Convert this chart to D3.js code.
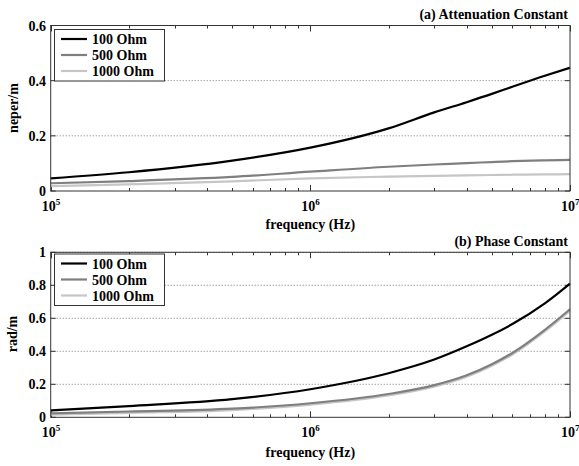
<!DOCTYPE html>
<html>
<head>
<meta charset="utf-8">
<script src="https://cdn.jsdelivr.net/npm/d3@7"></script>
<style>
  html, body { margin: 0; padding: 0; background: #fff; }
  svg { display: block; }
  text { font-family: "Liberation Serif", "Times New Roman", serif; font-weight: bold; fill: #000; }
</style>
</head>
<body>
<svg id="chart" width="579" height="466"></svg>
<script>
// Line frequencies (Hz)
const freqs = [1e5, 2e5, 5e5, 1e6, 2e6, 3e6, 4e6, 5e6, 6e6, 8e6, 1e7];
const seriesNames = ["100 Ohm", "500 Ohm", "1000 Ohm"];
const seriesColors = ["#000000", "#7f7f7f", "#c6c6c6"];

// Attenuation constant (neper/m)
const atten100 = [0.046, 0.068, 0.110, 0.157, 0.227, 0.285, 0.322, 0.352, 0.378, 0.418, 0.447];
const atten500 = [0.028, 0.036, 0.051, 0.070, 0.088, 0.096, 0.101, 0.105, 0.108, 0.111, 0.113];
const atten1000 = [0.018, 0.024, 0.035, 0.046, 0.052, 0.055, 0.057, 0.058, 0.059, 0.060, 0.061];

// Phase constant (rad/m)
const phase100 = [0.042, 0.068, 0.110, 0.170, 0.267, 0.350, 0.430, 0.500, 0.565, 0.690, 0.810];
const phase500 = [0.024, 0.035, 0.052, 0.085, 0.141, 0.195, 0.255, 0.322, 0.390, 0.530, 0.655];
const phase1000 = [0.016, 0.027, 0.044, 0.077, 0.133, 0.186, 0.246, 0.313, 0.380, 0.520, 0.645];

const xDecades = [1e5, 1e6, 1e7];
const xDecadeExps = ["5", "6", "7"];
const yTicksA = [0, 0.2, 0.4, 0.6];
const yTicksB = [0, 0.2, 0.4, 0.6, 0.8, 1];

const svg = d3.select("#chart");

const left = 50.7, right = 570;

const panels = [
  {
    top: 25.5, bottom: 191, yMax: 0.6, yTicks: yTicksA,
    series: [atten100, atten500, atten1000],
    title: "(a) Attenuation Constant", titleY: 19,
    yLabel: "neper/m", yLabelY: 108, yLabelX: 18,
    xLabelY: 229,
    legendTop: 29.5
  },
  {
    top: 252.3, bottom: 417.3, yMax: 1, yTicks: yTicksB,
    series: [phase100, phase500, phase1000],
    title: "(b) Phase Constant", titleY: 246,
    yLabel: "rad/m", yLabelY: 334, yLabelX: 17,
    xLabelY: 457,
    legendTop: 254
  }
];

const minorTicks = [];
for (let e = 5; e < 7; e++) {
  for (let m = 2; m <= 9; m++) minorTicks.push(m * Math.pow(10, e));
}

panels.forEach(p => {
  const x = d3.scaleLog().domain([1e5, 1e7]).range([left, right]);
  const y = d3.scaleLinear().domain([0, p.yMax]).range([p.bottom, p.top]);
  const g = svg.append("g");

  // white plot background
  g.append("rect")
    .attr("x", left).attr("y", p.top)
    .attr("width", right - left).attr("height", p.bottom - p.top)
    .attr("fill", "#fff");

  // horizontal dotted grid
  g.selectAll(".grid").data(p.yTicks.slice(1)).enter().append("line")
    .attr("x1", left).attr("x2", right)
    .attr("y1", d => y(d)).attr("y2", d => y(d))
    .attr("stroke", "#777").attr("stroke-width", 1)
    .attr("stroke-dasharray", "1,2");

  // minor log ticks (top and bottom, inward)
  minorTicks.forEach(t => {
    const xx = Math.round(x(t)) + 0.5;
    g.append("line").attr("x1", xx).attr("x2", xx)
      .attr("y1", p.bottom).attr("y2", p.bottom - 3)
      .attr("stroke", "#333");
    g.append("line").attr("x1", xx).attr("x2", xx)
      .attr("y1", p.top).attr("y2", p.top + 3)
      .attr("stroke", "#333");
  });
  // major decade ticks
  xDecades.forEach(t => {
    const xx = Math.round(x(t)) + 0.5;
    g.append("line").attr("x1", xx).attr("x2", xx)
      .attr("y1", p.bottom).attr("y2", p.bottom - 6)
      .attr("stroke", "#333");
    g.append("line").attr("x1", xx).attr("x2", xx)
      .attr("y1", p.top).attr("y2", p.top + 6)
      .attr("stroke", "#333");
  });
  // y ticks (left and right, inward)
  p.yTicks.forEach(t => {
    g.append("line").attr("x1", left).attr("x2", left + 5)
      .attr("y1", y(t)).attr("y2", y(t)).attr("stroke", "#333");
    g.append("line").attr("x1", right - 5).attr("x2", right)
      .attr("y1", y(t)).attr("y2", y(t)).attr("stroke", "#333");
  });

  // data lines
  const line = d3.line()
    .x((d, i) => x(freqs[i]))
    .y(d => y(d))
    .curve(d3.curveMonotoneX);

  p.series.slice().reverse().forEach((s, ri) => {
    const i = p.series.length - 1 - ri;
    g.append("path")
      .datum(s)
      .attr("d", line)
      .attr("fill", "none")
      .attr("stroke", seriesColors[i])
      .attr("stroke-width", 2.2);
  });

  // frame
  g.append("rect")
    .attr("x", left).attr("y", p.top)
    .attr("width", right - left).attr("height", p.bottom - p.top)
    .attr("fill", "none").attr("stroke", "#333").attr("stroke-width", 1);

  // y tick labels
  g.selectAll(".ylab").data(p.yTicks).enter().append("text")
    .attr("x", 46).attr("y", d => y(d) + 5)
    .attr("text-anchor", "end")
    .attr("font-size", 14)
    .text(d => d3.format("~g")(d));

  // x tick labels 10^n
  xDecades.forEach((t, i) => {
    const tx = g.append("text")
      .attr("x", x(t) - 9).attr("y", p.bottom + 19.5)
      .attr("font-size", 14);
    tx.append("tspan").text("10");
    tx.append("tspan").attr("dy", -6).attr("font-size", 9).text(xDecadeExps[i]);
  });

  // axis labels
  g.append("text")
    .attr("x", (left + right) / 2).attr("y", p.xLabelY)
    .attr("text-anchor", "middle").attr("font-size", 14)
    .text("frequency (Hz)");
  g.append("text")
    .attr("transform", `translate(${p.yLabelX},${p.yLabelY}) rotate(-90)`)
    .attr("text-anchor", "middle").attr("font-size", 14)
    .text(p.yLabel);

  // panel title
  g.append("text")
    .attr("x", 568).attr("y", p.titleY)
    .attr("text-anchor", "end").attr("font-size", 14)
    .text(p.title);

  // legend
  const lg = g.append("g");
  lg.append("rect")
    .attr("x", 54.5).attr("y", p.legendTop)
    .attr("width", 110).attr("height", 51.5)
    .attr("fill", "#fff").attr("stroke", "#333").attr("stroke-width", 1);
  seriesNames.forEach((name, i) => {
    const ry = p.legendTop + 9.5 + i * 16;
    lg.append("line")
      .attr("x1", 61).attr("x2", 87)
      .attr("y1", ry).attr("y2", ry)
      .attr("stroke", seriesColors[i]).attr("stroke-width", 2.2);
    lg.append("text")
      .attr("x", 92).attr("y", ry + 5)
      .attr("font-size", 14)
      .text(name);
  });
});
</script>
</body>
</html>
